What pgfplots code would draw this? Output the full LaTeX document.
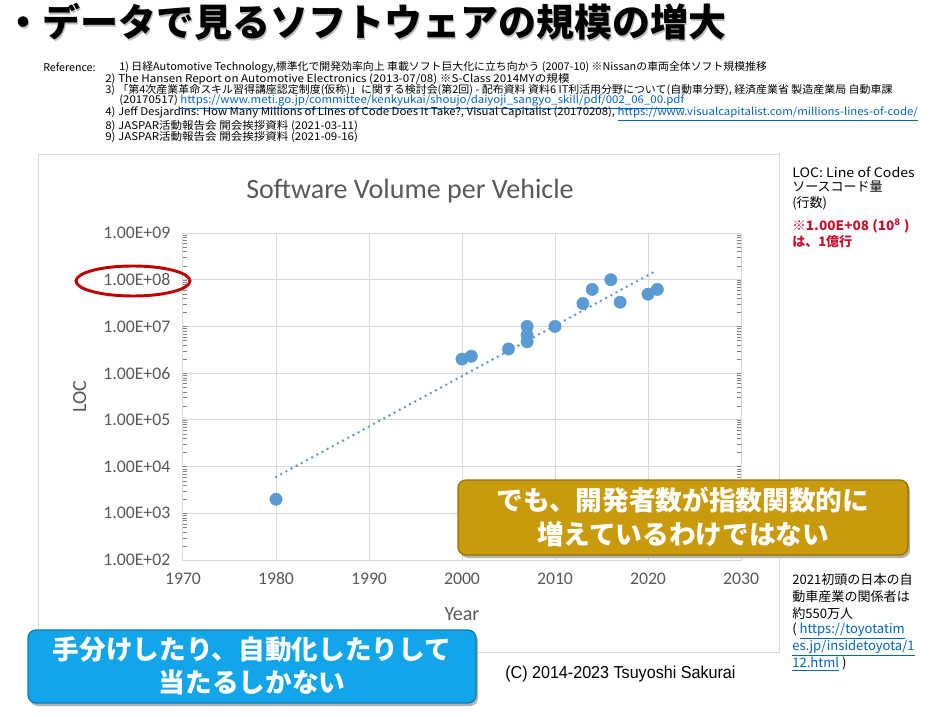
\documentclass[border=0pt]{standalone}
\usepackage{fontspec}
\setmainfont{Carlito}
\newfontfamily\cjk{Noto Sans CJK JP}
\newfontfamily\lib{Liberation Sans}
\usepackage{pgfplots}
\pgfplotsset{compat=1.18}

\definecolor{xlblue}{HTML}{5B9BD5}
\definecolor{gridgray}{HTML}{D9D9D9}
\definecolor{txtgray}{HTML}{595959}
\definecolor{darkred}{HTML}{C00000}
\definecolor{notered}{HTML}{C8102E}
\definecolor{linkblue}{HTML}{0563C1}
\definecolor{goldbox}{HTML}{C99A0B}
\definecolor{skybox}{HTML}{12A5E9}

\begin{document}
\begin{tikzpicture}[x=0.75pt,y=-0.75pt]
\useasboundingbox (0,0) rectangle (933,717);
\fill[white] (0,0) rectangle (933,717);

% heading
\node[anchor=west, inner sep=0, text=black!25, font=\cjk\bfseries\fontsize{28.5}{30}\selectfont] at (5.5,23.5) {・データで見るソフトウェアの規模の増大};
\node[anchor=west, inner sep=0, font=\cjk\bfseries\fontsize{28.5}{30}\selectfont] at (4,22) {・データで見るソフトウェアの規模の増大};

% references
\begin{scope}[every node/.style={anchor=west, inner sep=0, font=\cjk\fontsize{8}{9}\selectfont}]
\node at (43,67) {Reference:};
\node[xscale=1.02] at (119,67) {1) 日経Automotive Technology,標準化で開発効率向上 車載ソフト巨大化に立ち向かう (2007-10) ※Nissanの車両全体ソフト規模推移};
\node[xscale=1.09] at (105,79) {2) The Hansen Report on Automotive Electronics (2013-07/08) ※S-Class 2014MYの規模};
\node[xscale=1.027] at (105,90) {3) 「第4次産業革命スキル習得講座認定制度(仮称)」に関する検討会(第2回) - 配布資料 資料6 IT利活用分野について(自動車分野), 経済産業省 製造産業局 自動車課};
\node[xscale=1.074] at (119,102) {(20170517) \textcolor{linkblue}{\underline{https://www.meti.go.jp/committee/kenkyukai/shoujo/daiyoji\_sangyo\_skill/pdf/002\_06\_00.pdf}}};
\node[xscale=1.07] at (105,114) {4) Jeff Desjardins: How Many Millions of Lines of Code Does It Take?, Visual Capitalist (20170208), \textcolor{linkblue}{\underline{https://www.visualcapitalist.com/millions-lines-of-code/}}};
\node[xscale=1.08] at (105,126) {8) JASPAR活動報告会 開会挨拶資料 (2021-03-11)};
\node[xscale=1.08] at (105,137) {9) JASPAR活動報告会 開会挨拶資料 (2021-09-16)};
\end{scope}

% chart frame
\draw[gridgray, line width=0.75pt] (38,155) rectangle (779,652);
\node[text=txtgray, font=\fontsize{21}{24}\selectfont] at (410,191) {Software Volume per Vehicle};

\begin{axis}[
    at={(137.25pt,-420pt)}, anchor=south west,
    scale only axis,
    width=418.5pt, height=245.25pt,
    xmin=1970, xmax=2030,
    ymode=log, ymin=1e2, ymax=1e9,
    xtick={1970,1980,...,2030},
    ytick={1e2,1e3,1e4,1e5,1e6,1e7,1e8,1e9},
    yticklabels={1.00E+02,1.00E+03,1.00E+04,1.00E+05,1.00E+06,1.00E+07,1.00E+08,1.00E+09},
    minor ytick={}, yminorgrids=false,
    grid=major,
    grid style={gridgray, line width=0.75pt},
    axis line style={gridgray, line width=0.75pt},
    major tick length=0pt,
    tick label style={text=txtgray, font=\fontsize{13.3}{15}\selectfont},
    xticklabel style={yshift=-6pt},
    yticklabel style={xshift=-6pt},
    /pgf/number format/assume math mode=true,
    /pgf/number format/1000 sep={},
    xlabel={Year}, ylabel={LOC},
    label style={text=txtgray, font=\fontsize{15}{17}\selectfont},
    xlabel style={at={(axis description cs:0.5,-0.165)}, anchor=center},
    ylabel style={at={(axis description cs:-0.185,0.5)}, anchor=center},
    clip=false,
]
% trend line (exponential fit, straight on log axis)
\addplot[xlblue, line width=2.1pt, dash pattern=on 0pt off 4.4pt, line cap=round] coordinates {
    (1980,6.0e3) (2021,1.6e8)
};
\addplot[only marks, mark=*, mark size=4.6pt, mark options={fill=xlblue, draw=xlblue}] coordinates {
    (1980,2.0e3)
    (2000,2.0e6)
    (2001,2.3e6)
    (2005,3.3e6)
    (2007,1.0e7)
    (2007,6.6e6)
    (2007,4.7e6)
    (2010,1.0e7)
    (2013,3.1e7)
    (2014,6.2e7)
    (2016,1.0e8)
    (2017,3.3e7)
    (2020,4.9e7)
    (2021,6.2e7)
};
\end{axis}

% red ellipse round 1.00E+08
\draw[darkred, line width=2.2pt] (133,281) ellipse [x radius=57, y radius=15];

% right notes
\begin{scope}[every node/.style={anchor=west, inner sep=0, font=\cjk\fontsize{9.75}{11}\selectfont}]
\node[xscale=1.09] at (792,172) {LOC: Line of Codes};
\node at (792,187) {ソースコード量};
\node at (792,203) {(行数)};
\node[xscale=1.05, text=notered, font=\cjk\bfseries\fontsize{9.75}{11}\selectfont] at (792,226) {※1.00E+08 (10\textsuperscript{8} )};
\node[text=notered, font=\cjk\bfseries\fontsize{9.75}{11}\selectfont] at (792,242) {は、1億行};
\end{scope}
\begin{scope}[every node/.style={anchor=west, inner sep=0, font=\cjk\fontsize{9.8}{12}\selectfont}]
\node at (792,580) {2021初頭の日本の自};
\node at (792,597) {動車産業の関係者は};
\node at (792,614) {約550万人};
\node at (792,631) {( \textcolor{linkblue}{\underline{https://toyotatim}}};
\node at (792,648) {\textcolor{linkblue}{\underline{es.jp/insidetoyota/1}}};
\node at (792,664) {\textcolor{linkblue}{\underline{12.html}} )};
\end{scope}

% gold box
\fill[black!30, rounded corners=6] (460,483) rectangle (910,558);
\draw[fill=goldbox, draw=goldbox!75!black, line width=1pt, rounded corners=6] (458,480) rectangle (908,555);
\node[text=white, font=\cjk\bfseries\fontsize{20}{22}\selectfont] at (683,500) {でも、開発者数が指数関数的に};
\node[text=white, font=\cjk\bfseries\fontsize{20}{22}\selectfont] at (683,534) {増えているわけではない};

% blue box
\fill[black!30, rounded corners=6] (30,633) rectangle (478,706);
\draw[fill=skybox, draw=skybox!75!black, line width=1pt, rounded corners=6] (28,630) rectangle (476,703);
\node[text=white, font=\cjk\bfseries\fontsize{20}{22}\selectfont] at (252,649) {手分けしたり、自動化したりして};
\node[text=white, font=\cjk\bfseries\fontsize{20}{22}\selectfont] at (252,682) {当たるしかない};

% copyright
\node[anchor=west, inner sep=0, xscale=0.93, font=\lib\fontsize{13}{15}\selectfont] at (505,674) {(C) 2014-2023 Tsuyoshi Sakurai};
\end{tikzpicture}
\end{document}
